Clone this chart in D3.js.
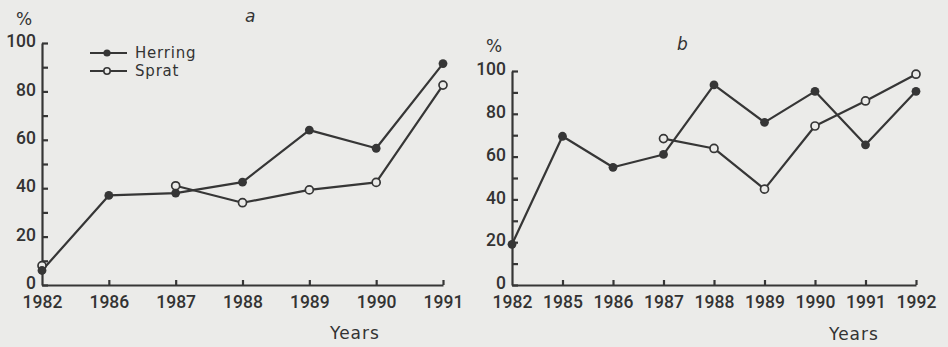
<!DOCTYPE html>
<html>
<head>
<meta charset="utf-8">
<script src="https://cdn.jsdelivr.net/npm/d3@7/dist/d3.min.js"></script>
<style>
  html, body { margin: 0; padding: 0; background: #ebebe9; }
  svg { display: block; }
  text { fill: #333; }
  .num { font-family: Roboto, "DejaVu Sans", sans-serif; font-size: 17.5px; font-weight: 500; }
  .word { font-family: "DejaVu Sans", sans-serif; font-size: 17px; }
</style>
</head>
<body>
<svg id="chart" width="948" height="347"></svg>
<script>
// panel a
const yearsA = ['1982', '1986', '1987', '1988', '1989', '1990', '1991'];
const herringA = [6, 37, 38, 42.5, 64, 56.5, 91.5];
const spratA = [8, null, 41, 34, 39.3, 42.4, 82.6];

// panel b
const yearsB = ['1982', '1985', '1986', '1987', '1988', '1989', '1990', '1991', '1992'];
const herringB = [19, 69.5, 55, 61, 93.5, 76, 90.5, 65.5, 90.5];
const spratB = [null, null, null, 68.4, 63.8, 44.8, 74.3, 86, 98.5];

const yTicks = [0, 10, 20, 30, 40, 50, 60, 70, 80, 90, 100];
const seriesNames = ['Herring', 'Sprat'];

const ink = '#363636';
const paper = '#ebebe9';
const svg = d3.select('#chart');

function drawPanel(opts) {
  const x = d3.scalePoint().domain(opts.years).range(opts.xRange);
  const y = d3.scaleLinear().domain([0, 100]).range(opts.yRange);
  const g = svg.append('g');

  // y axis, ticks pointing inward
  const yAxis = g.append('g')
    .attr('transform', `translate(${opts.xRange[0]},0)`)
    .call(d3.axisLeft(y)
      .tickValues(yTicks)
      .tickSizeInner(-6)
      .tickSizeOuter(0)
      .tickPadding(6)
      .tickFormat(d => d % 20 === 0 ? d : ''));
  yAxis.selectAll('text').attr('y', -2);

  // x axis, ticks pointing up
  const xAxis = g.append('g')
    .attr('transform', `translate(0,${opts.yRange[0]})`)
    .call(d3.axisBottom(x)
      .tickSizeInner(-5)
      .tickSizeOuter(0)
      .tickPadding(11));

  [yAxis, xAxis].forEach(ax => {
    ax.attr('font-family', null).attr('font-size', null);
    ax.selectAll('path, line').attr('stroke', ink).attr('stroke-width', 2.2);
    ax.selectAll('text').attr('class', 'num').attr('fill', '#333');
  });
  xAxis.selectAll('.tick').filter((d, i) => i === 0).select('line').remove();

  const line = d3.line()
    .defined(d => d.v != null)
    .x(d => x(d.k))
    .y(d => y(d.v));

  const sprat = opts.years.map((k, i) => ({ k, v: opts.sprat[i] }));
  const herring = opts.years.map((k, i) => ({ k, v: opts.herring[i] }));

  [sprat, herring].forEach(s => {
    g.append('path').datum(s)
      .attr('d', line).attr('fill', 'none')
      .attr('stroke', ink).attr('stroke-width', 2.2).attr('stroke-linejoin', 'round');
  });

  g.selectAll('.sprat-pt').data(sprat.filter(d => d.v != null)).enter()
    .append('circle').attr('class', 'sprat-pt')
    .attr('cx', d => x(d.k)).attr('cy', d => y(d.v)).attr('r', 4)
    .attr('fill', paper).attr('stroke', ink).attr('stroke-width', 1.7);
  g.selectAll('.herring-pt').data(herring.filter(d => d.v != null)).enter()
    .append('circle').attr('class', 'herring-pt')
    .attr('cx', d => x(d.k)).attr('cy', d => y(d.v)).attr('r', 4.4)
    .attr('fill', ink);

  // labels
  g.append('text').attr('class', 'word').attr('x', opts.pct[0]).attr('y', opts.pct[1])
    .text('%');
  g.append('text').attr('class', 'word').attr('x', opts.title[0]).attr('y', opts.title[1])
    .attr('font-style', 'italic').text(opts.label);
  g.append('text').attr('class', 'word').attr('x', opts.yearsPos[0]).attr('y', opts.yearsPos[1])
    .attr('letter-spacing', 1).text('Years');
}

drawPanel({
  years: yearsA, herring: herringA, sprat: spratA,
  xRange: [42, 443], yRange: [285, 43],
  pct: [16, 25], title: [245, 22], label: 'a', yearsPos: [330, 339]
});

drawPanel({
  years: yearsB, herring: herringB, sprat: spratB,
  xRange: [512, 916], yRange: [285, 71],
  pct: [486, 52], title: [677, 50], label: 'b', yearsPos: [829, 340]
});

// legend (panel a)
const legendY = [53, 71];
const legend = svg.append('g');
seriesNames.forEach((name, i) => {
  const ly = legendY[i];
  const filled = i === 0;
  legend.append('line').attr('x1', 90).attr('x2', 127).attr('y1', ly).attr('y2', ly)
    .attr('stroke', ink).attr('stroke-width', 2.2);
  legend.append('circle').attr('cx', 107).attr('cy', ly).attr('r', filled ? 3.6 : 3.2)
    .attr('fill', filled ? ink : paper).attr('stroke', ink).attr('stroke-width', filled ? 0 : 1.6);
  legend.append('text').attr('class', 'word').attr('x', 135).attr('y', ly + 5)
    .style('font-size', '15px').attr('letter-spacing', 0.8).text(name);
});
</script>
</body>
</html>
